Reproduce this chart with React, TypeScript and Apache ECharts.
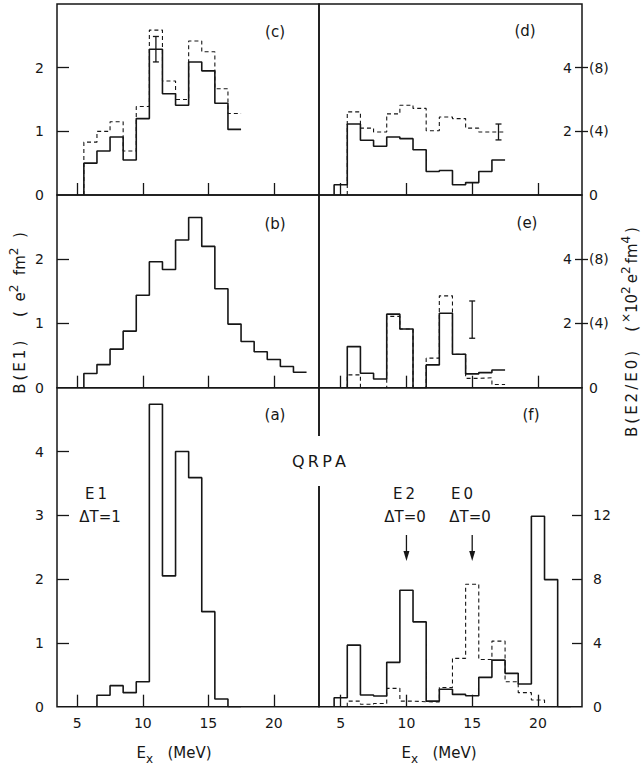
import React, { useEffect, useRef } from "react";
import * as echarts from "echarts";

const FONT = "DejaVu Sans";
const INK = "#161616";

// ---- data (bins 1 MeV wide, first bin centre given by *Start) ----
// (a) E1, ΔT=1, QRPA
const aStart = 7;
const aE1 = [0.18, 0.33, 0.22, 0.39, 4.74, 2.05, 4.0, 3.59, 1.49, 0.12, 0];
// (b)
const bStart = 6;
const bE1 = [0.22, 0.36, 0.6, 0.88, 1.44, 1.96, 1.84, 2.3, 2.65, 2.2, 1.54, 0.99, 0.72, 0.56, 0.44, 0.33, 0.24];
// (c)
const cStart = 6;
const cSolid = [0.5, 0.69, 0.91, 0.55, 1.2, 2.29, 1.59, 1.41, 2.09, 1.95, 1.44, 1.03];
const cDashed = [0.83, 1.0, 1.15, 0.69, 1.39, 2.59, 1.79, 1.5, 2.42, 2.25, 1.67, 1.28];
const cErr = [[11, 2.29, 0.2]];
// (d)
const dSolidStart = 5;
const dSolid = [0.32, 2.23, 1.72, 1.53, 1.82, 1.77, 1.42, 0.74, 0.77, 0.32, 0.39, 0.74, 1.1];
const dDashedStart = 6;
const dDashed = [2.61, 2.1, 1.98, 2.55, 2.82, 2.72, 2.02, 2.45, 2.4, 2.1, 1.98, 1.98];
const dErr = [[17, 1.98, 0.25]];
// (e)
const eStart = 6;
const eSolid = [1.28, 0.45, 0.27, 2.29, 1.83, 0, 0.71, 2.32, 1.04, 0.43, 0.47, 0.55];
const eDashed = [0.4, 0, 0, 2.22, 1.83, 0, 0.92, 2.86, 1.04, 0.29, 0.31, 0.1];
const eErr = [[15, 2.12, 0.58]];
// (f) E2 / E0, ΔT=0, QRPA
const fSolidStart = 5;
const fSolid = [0.56, 3.86, 0.73, 0.67, 2.78, 7.3, 5.32, 0.35, 1.09, 0.77, 0.69, 1.84, 2.92, 2.09, 1.42, 11.94, 7.97, 0];
const fDashedStart = 6;
const fDashed = [0.35, 0.15, 0.2, 1.15, 0.35, 0.31, 0.3, 1.2, 3.03, 7.68, 2.96, 4.11, 1.56, 0.88, 0.42, 0];

// ---- ticks ----
const xTicks = [5, 10, 15, 20];
const leftLabels = [0, 1, 2];
const leftTicks = [1, 2];
const aLabels = [0, 1, 2, 3, 4];
const aTicks = [1, 2, 3, 4];
const rightOuter = [0, 2, 4];
const rightInner = [2, 4];
const fLabels = [0, 4, 8, 12];
const fTicks = [4, 8, 12];

function steps(start: number, vals: number[]) {
  const pts: number[][] = [[start - 0.5, 0]];
  vals.forEach((v, i) => {
    const c = start + i;
    pts.push([c - 0.5, v], [c + 0.5, v]);
  });
  return pts;
}

const labelStyle = { color: INK, fontFamily: FONT, fontSize: 14 };

function xAx(grid: number, min: number, max: number, labels: boolean) {
  return {
    type: "value", gridIndex: grid, min, max,
    axisLine: { show: false }, splitLine: { show: false },
    axisTick: { show: true, inside: true, length: 12, customValues: xTicks, lineStyle: { color: INK, width: 1.3 } },
    axisLabel: { show: labels, customValues: xTicks, margin: 9, ...labelStyle },
  };
}

function yLeft(grid: number, max: number, labels: number[], ticks: number[]) {
  return {
    type: "value", gridIndex: grid, min: 0, max, position: "left",
    axisLine: { show: false }, splitLine: { show: false },
    axisTick: { show: true, inside: true, length: 12, customValues: ticks, lineStyle: { color: INK, width: 1.3 } },
    axisLabel: { show: true, customValues: labels, margin: 13, ...labelStyle },
  };
}

function yRightOuter(grid: number) {
  return {
    type: "value", gridIndex: grid, min: 0, max: 6, position: "right",
    axisLine: { show: false }, splitLine: { show: false },
    axisTick: { show: true, inside: false, length: 6, customValues: rightInner, lineStyle: { color: INK, width: 1.3 } },
    axisLabel: {
      show: true, customValues: rightOuter, margin: 7, ...labelStyle,
      formatter: (v: number) => (v === 0 ? "0" : `(${v * 2})`),
    },
  };
}

function yRightInner(grid: number) {
  return {
    type: "value", gridIndex: grid, min: 0, max: 6, position: "right",
    axisLine: { show: false }, splitLine: { show: false },
    axisTick: { show: true, inside: true, length: 7, customValues: rightInner, lineStyle: { color: INK, width: 1.3 } },
    axisLabel: { show: true, inside: true, customValues: rightInner, margin: 10, ...labelStyle },
  };
}

function hist(xi: number, yi: number, start: number, vals: number[], dashed = false) {
  return {
    type: "line", xAxisIndex: xi, yAxisIndex: yi, data: steps(start, vals),
    symbol: "none", showSymbol: false, silent: true, z: dashed ? 3 : 4,
    lineStyle: dashed ? { color: INK, width: 1.1, type: [4, 3] } : { color: INK, width: 1.6, type: "solid" },
  };
}

function errBar(xi: number, yi: number, data: number[][]) {
  return {
    type: "custom", xAxisIndex: xi, yAxisIndex: yi, data, silent: true, z: 5,
    renderItem: (_p: any, api: any) => {
      const x = api.value(0), y = api.value(1), d = api.value(2);
      const t = api.coord([x, y + d]);
      const b = api.coord([x, y - d]);
      const st = { stroke: INK, lineWidth: 1.3 };
      return {
        type: "group",
        children: [
          { type: "line", shape: { x1: t[0], y1: t[1], x2: b[0], y2: b[1] }, style: st },
          { type: "line", shape: { x1: t[0] - 3, y1: t[1], x2: t[0] + 3, y2: t[1] }, style: st },
          { type: "line", shape: { x1: b[0] - 3, y1: b[1], x2: b[0] + 3, y2: b[1] }, style: st },
        ],
      };
    },
  };
}

function txt(x: number, y: number, text: string, size = 14, extra: any = {}) {
  return {
    type: "text", x, y, z: 100,
    style: { text, fontFamily: FONT, fontSize: size, fill: INK, align: "center", verticalAlign: "middle", ...extra },
  };
}

const rich = {
  b: { fontFamily: FONT, fontSize: 15, fill: INK, color: INK, lineHeight: 24 },
  s: { fontFamily: FONT, fontSize: 12, fill: INK, color: INK, lineHeight: 12, verticalAlign: "top" },
  u: { fontFamily: FONT, fontSize: 12, fill: INK, color: INK, lineHeight: 12, verticalAlign: "bottom" },
};

const TS = "\u2009"; // thin space for letter spacing

export default function App() {
  const ref = useRef<HTMLDivElement>(null);
  useEffect(() => {
    if (!ref.current) return;
    const chart = echarts.init(ref.current, null, { renderer: "svg" });
    const LX = 57, RX = 319, LW = 262, RW = 263;
    const T1 = 4, H1 = 191, T2 = 195, H2 = 192.7, T3 = 387.7, H3 = 319;
    const gb = { show: true, borderColor: INK, borderWidth: 1.5, backgroundColor: "transparent" };
    const Lmin = 3.45, Lmax = 23.45, Rmin = 3.35, Rmax = 23.35;
    chart.setOption({
      animation: false,
      grid: [
        { left: LX, top: T1, width: LW, height: H1, ...gb }, // c
        { left: RX, top: T1, width: RW, height: H1, ...gb }, // d
        { left: LX, top: T2, width: LW, height: H2, ...gb }, // b
        { left: RX, top: T2, width: RW, height: H2, ...gb }, // e
        { left: LX, top: T3, width: LW, height: H3, ...gb }, // a
        { left: RX, top: T3, width: RW, height: H3, ...gb }, // f
      ],
      xAxis: [
        xAx(0, Lmin, Lmax, false),
        xAx(1, Rmin, Rmax, false),
        xAx(2, Lmin, Lmax, false),
        xAx(3, Rmin, Rmax, false),
        xAx(4, Lmin, Lmax, true),
        xAx(5, Rmin, Rmax, true),
      ],
      yAxis: [
        yLeft(0, 3, leftLabels, leftTicks), // 0 c
        yRightOuter(1), // 1 d
        yRightInner(1), // 2 d inner
        yLeft(2, 3, leftLabels, leftTicks), // 3 b
        yRightOuter(3), // 4 e
        yRightInner(3), // 5 e inner
        yLeft(4, 5, aLabels, aTicks), // 6 a
        {
          type: "value", gridIndex: 5, min: 0, max: 20, position: "right",
          axisLine: { show: false }, splitLine: { show: false },
          axisTick: { show: true, inside: true, length: 10, customValues: fTicks, lineStyle: { color: INK, width: 1.3 } },
          axisLabel: { show: true, customValues: fLabels, margin: 11, ...labelStyle },
        }, // 7 f
      ],
      series: [
        hist(0, 0, cStart, cDashed, true),
        hist(0, 0, cStart, cSolid),
        errBar(0, 0, cErr),
        hist(1, 1, dDashedStart, dDashed, true),
        hist(1, 1, dSolidStart, dSolid),
        errBar(1, 1, dErr),
        hist(2, 3, bStart, bE1),
        hist(3, 4, eStart, eDashed, true),
        hist(3, 4, eStart, eSolid),
        errBar(3, 4, eErr),
        hist(4, 6, aStart, aE1),
        hist(5, 7, fDashedStart, fDashed, true),
        hist(5, 7, fSolidStart, fSolid),
      ],
    });

    const x10 = chart.convertToPixel({ xAxisIndex: 5 }, 10) as number;
    const x15 = chart.convertToPixel({ xAxisIndex: 5 }, 15) as number;
    const arrow = (x: number) => [
      { type: "line", z: 100, shape: { x1: x, y1: 535, x2: x, y2: 556 }, style: { stroke: INK, lineWidth: 1.3 } },
      { type: "polygon", z: 100, shape: { points: [[x - 3, 551], [x + 3, 551], [x, 561]] }, style: { fill: INK } },
    ];

    const rightTitle =
      `{b|B${TS}(${TS}E${TS}2${TS}/${TS}E${TS}0${TS})    (${TS}}{s|×}{b|10}{s|2}{b|${TS}e}{s|2}{b|${TS}fm}{s|4}{b|${TS})}`;
    const leftTitle = `{b|B${TS}(${TS}E${TS}1${TS})     (  e}{s|2}{b|  fm}{s|2}{b|  )}`;

    chart.setOption({
      graphic: [
        txt(275, 32, "(c)", 15),
        txt(525, 31, "(d)", 15),
        txt(275, 224, "(b)", 15),
        txt(527, 223, "(e)", 15),
        txt(275, 415, "(a)", 15),
        txt(531, 415, "(f)", 15),
        { type: "rect", z: 90, shape: { x: 312, y: 436, width: 14, height: 50 }, style: { fill: "#fff" } },
        txt(319, 461, `Q${TS}R${TS}P${TS}A`, 16),
        txt(96, 494, `E${TS}1`, 15),
        txt(100, 517, "ΔT=1", 15),
        txt(404, 494, `E${TS}2`, 15),
        txt(405, 517, "ΔT=0", 15),
        txt(462, 494, `E${TS}0`, 15),
        txt(470, 517, "ΔT=0", 15),
        ...arrow(x10),
        ...arrow(x15),
        {
          type: "text", x: 20, y: 313, rotation: Math.PI / 2, z: 100,
          style: { text: leftTitle, rich, align: "center", verticalAlign: "middle" },
        },
        {
          type: "text", x: 632, y: 332, rotation: Math.PI / 2, z: 100,
          style: { text: rightTitle, rich, align: "center", verticalAlign: "middle" },
        },
        {
          type: "text", x: 174, y: 753, z: 100,
          style: { text: "{b|E}{u|x}{b|   (MeV)}", rich, align: "center", verticalAlign: "middle" },
        },
        {
          type: "text", x: 439, y: 753, z: 100,
          style: { text: "{b|E}{u|x}{b|   (MeV)}", rich, align: "center", verticalAlign: "middle" },
        },
      ],
    });
    return () => chart.dispose();
  }, []);
  return (
    <div
      ref={ref}
      style={{ position: "fixed", left: 0, top: 0, width: 641, height: 769, background: "#fff" }}
    />
  );
}
